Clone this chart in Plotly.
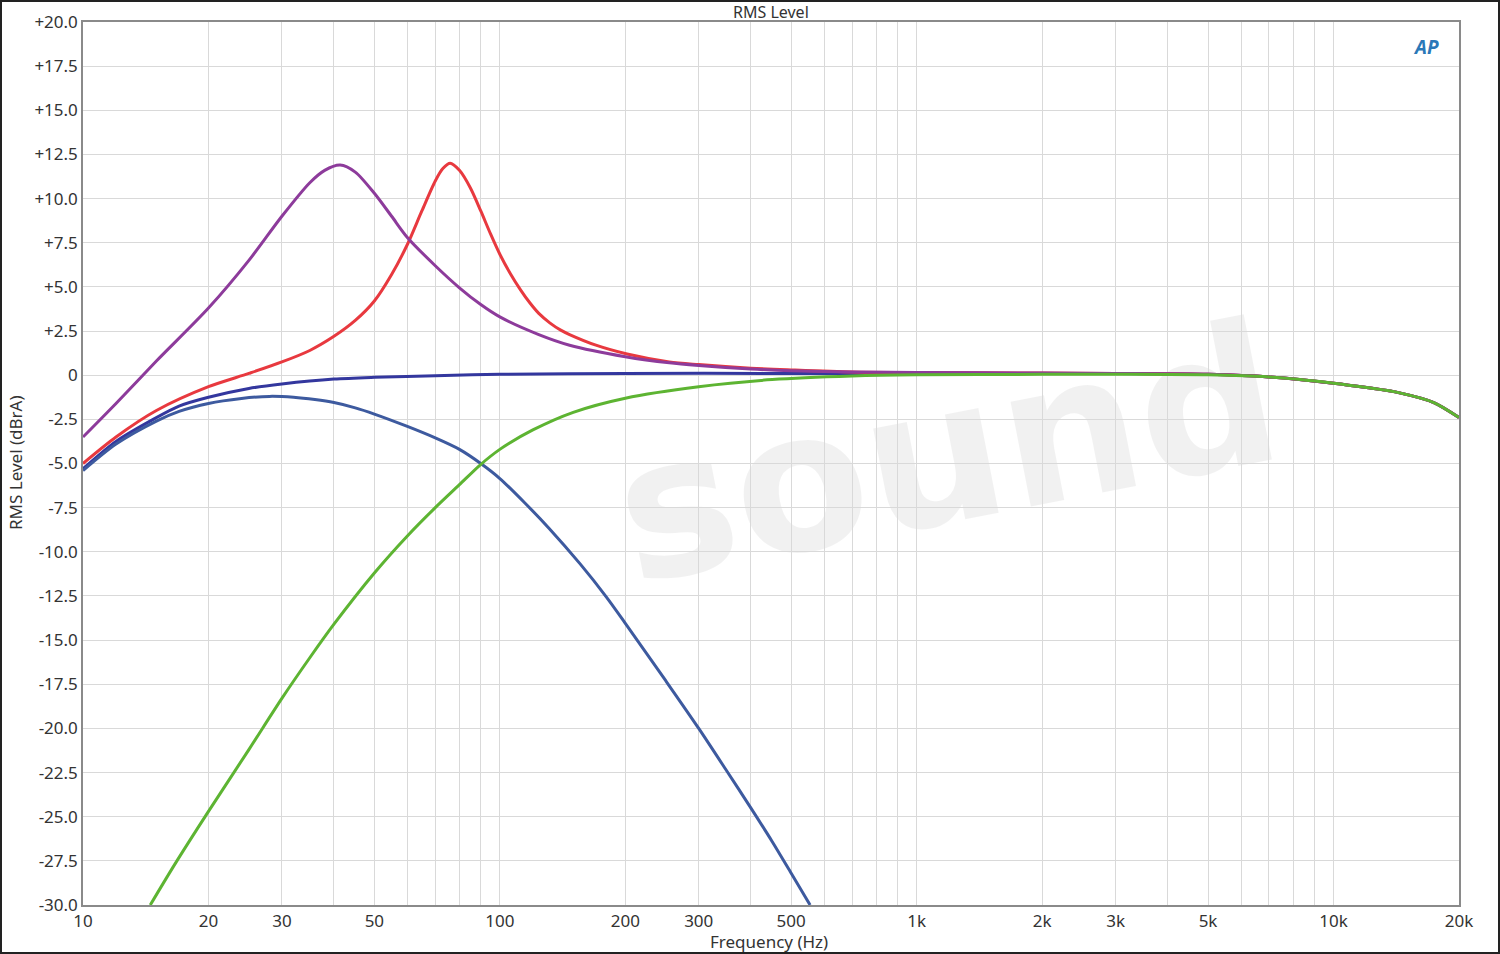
import plotly.graph_objects as go
import math

# ---------------- data ----------------
tail_f = [700, 1000, 2000, 3000, 5000, 7000, 10000, 12000, 14400, 17400, 20000]
tail_db = [0.18, 0.15, 0.12, 0.1, 0.05, -0.1, -0.45, -0.7, -1.0, -1.55, -2.4]

purple_f = [10, 12, 15, 20, 25, 30, 35, 38, 41.4, 45, 50, 55, 60, 70, 80, 90, 100,
            124, 147, 200, 255, 300, 400, 500] + tail_f
purple_db = [-3.5, -1.6, 0.8, 3.8, 6.5, 9.0, 10.9, 11.6, 11.9, 11.5, 10.3, 9.0, 7.8, 6.2, 4.95, 4.0, 3.3,
             2.3, 1.7, 1.05, 0.7, 0.55, 0.35, 0.25] + tail_db

red_f = [10, 12, 15, 20, 25, 30, 35, 40, 45, 50, 55, 60, 65, 70, 73, 76, 80, 85, 90, 95, 100,
         106, 112, 118, 124, 132, 140, 147, 170, 202, 255, 300, 400, 500] + tail_f
red_db = [-5.0, -3.5, -2.0, -0.65, 0.1, 0.75, 1.4, 2.2, 3.1, 4.2, 5.7, 7.4, 9.3, 11.0, 11.7, 12.0, 11.6, 10.6, 9.3, 8.0, 6.85,
          5.75, 4.85, 4.1, 3.5, 2.95, 2.55, 2.3, 1.7, 1.2, 0.75, 0.6, 0.4, 0.3] + tail_db

flat_f = [10, 12, 15, 17, 20, 25, 30, 40, 50, 70, 100, 200, 500] + tail_f
flat_db = [-5.3, -3.75, -2.4, -1.75, -1.25, -0.75, -0.5, -0.22, -0.12, -0.03, 0.05, 0.1, 0.1,
           0.1, 0.1, 0.1, 0.1, 0.05, -0.1, -0.45, -0.7, -1.0, -1.55, -2.4]

lp_f = [10, 12, 15, 17, 20, 24, 28, 32, 36, 40, 45, 50, 60, 70, 80, 90, 100,
        115, 131, 156, 180, 200, 250, 300, 350, 400, 450, 500, 555]
lp_db = [-5.4, -3.9, -2.6, -2.05, -1.6, -1.32, -1.2, -1.25, -1.38, -1.55, -1.85, -2.2, -2.9, -3.55, -4.2, -5.0, -5.85,
         -7.25, -8.65, -10.7, -12.55, -14.05, -17.3, -20.0, -22.4, -24.5, -26.4, -28.2, -30.0]

green_f = [14.5, 16.6, 20, 25, 30, 35, 40, 50, 60, 70, 80, 89.5, 100, 120, 150, 200, 300, 450,
           700, 1000, 2000, 3000, 5000, 7000, 10000, 12000, 14400, 17400, 20000]
green_db = [-30.0, -27.7, -24.7, -21.2, -18.3, -16.0, -14.1, -11.2, -9.1, -7.5, -6.2, -5.1, -4.2, -3.1, -2.1,
            -1.3, -0.65, -0.25, -0.05, 0.02, 0.05, 0.05, 0.02, -0.1, -0.45, -0.7, -1.0, -1.55, -2.4]

x_label_vals = [10, 20, 30, 50, 100, 200, 300, 500, 1000, 2000, 3000, 5000, 10000, 20000]
x_label_text = ["10", "20", "30", "50", "100", "200", "300", "500", "1k", "2k", "3k", "5k", "10k", "20k"]
y_ticks = [20 - 2.5 * i for i in range(21)]

# ---------------- figure ----------------
W, H = 1500, 954
L, R, T, B = 83, 41, 22, 49
PW, PH = W - L - R, H - T - B

def px_x(p):
    return (p - L) / PW

def px_y(p):
    return (H - B - p) / PH

fig = go.Figure()

series = [
    (flat_f, flat_db, "#33379e"),
    (lp_f, lp_db, "#3d5a9f"),
    (red_f, red_db, "#e8393f"),
    (purple_f, purple_db, "#8d3b9b"),
    (green_f, green_db, "#5db432"),
]
for fx, fy, col in series:
    fig.add_trace(go.Scatter(x=fx, y=fy, mode="lines",
                             line=dict(color=col, width=3, shape="spline", smoothing=0.8),
                             hoverinfo="skip", showlegend=False))

# grid ticks: every 1..9 multiple
all_vals = []
all_text = []
for dec in [10, 100, 1000, 10000]:
    for m in range(1, 10):
        v = m * dec
        if v > 20000:
            break
        all_vals.append(v)
        if v in x_label_vals:
            all_text.append(x_label_text[x_label_vals.index(v)])
        else:
            all_text.append("")

def fmt_y(v):
    if abs(v) < 1e-9:
        return "0"
    return ("+" if v > 0 else "") + f"{v:.1f}"

font_family = "Noto Sans, Open Sans, sans-serif"
FS = 17

fig.update_layout(
    width=W, height=H, autosize=False,
    margin=dict(l=L, r=R, t=T, b=B, autoexpand=False),
    paper_bgcolor="white", plot_bgcolor="white",
    font=dict(family=font_family, size=FS, color="#333333"),
    showlegend=False,
)
fig.update_xaxes(
    type="log", range=[1, math.log10(20000)], automargin=False,
    tickmode="array", tickvals=all_vals, ticktext=all_text,
    showgrid=True, gridcolor="#d9d9d9", gridwidth=1,
    showline=True, linecolor="#8a8a8a", linewidth=1.5, mirror=True,
    ticks="", zeroline=False, tickfont=dict(size=FS, color="#333333"),
)
fig.update_yaxes(
    range=[-30, 20], automargin=False,
    tickmode="array", tickvals=y_ticks, ticktext=[fmt_y(v) for v in y_ticks],
    showgrid=True, gridcolor="#d9d9d9", gridwidth=1,
    showline=True, linecolor="#8a8a8a", linewidth=1.5, mirror=True,
    ticks="", zeroline=False, tickfont=dict(size=FS, color="#333333"),
)

# watermark (below traces)
fig.add_shape(type="rect", xref="paper", yref="paper",
              x0=px_x(560), x1=px_x(1330), y0=px_y(600), y1=px_y(280),
              line=dict(width=0), fillcolor="rgba(0,0,0,0)", layer="between",
              label=dict(text="sound", textangle=-11, textposition="middle center",
                         font=dict(family="DejaVu Sans", size=195, color="rgba(0,0,0,0.055)", weight="bold")))

# outer frame
fig.add_shape(type="rect", xref="paper", yref="paper",
              x0=px_x(1), x1=px_x(W - 1), y0=px_y(H - 1), y1=px_y(1),
              line=dict(color="#222222", width=2), fillcolor="rgba(0,0,0,0)", layer="above")

# texts
fig.add_annotation(text="RMS Level", xref="paper", yref="paper", x=0.5, y=px_y(12),
                   showarrow=False, xanchor="center", yanchor="middle",
                   font=dict(size=16, color="#333333"))
fig.add_annotation(text="Frequency (Hz)", xref="paper", yref="paper", x=px_x(769), y=px_y(941),
                   showarrow=False, xanchor="center", yanchor="middle",
                   font=dict(size=FS, color="#333333"))
fig.add_annotation(text="RMS Level (dBrA)", xref="paper", yref="paper", x=px_x(15), y=px_y(463),
                   showarrow=False, xanchor="center", yanchor="middle", textangle=-90,
                   font=dict(size=FS, color="#333333"))
fig.add_annotation(text="<b><i>AP</i></b>", xref="paper", yref="paper", x=px_x(1426), y=px_y(47),
                   showarrow=False, xanchor="center", yanchor="middle",
                   font=dict(size=19, color="#2a78b8"))

fig.write_html("out.html", config={"displayModeBar": False},
               post_script="document.body.style.margin='0px';document.body.style.padding='0px';")
